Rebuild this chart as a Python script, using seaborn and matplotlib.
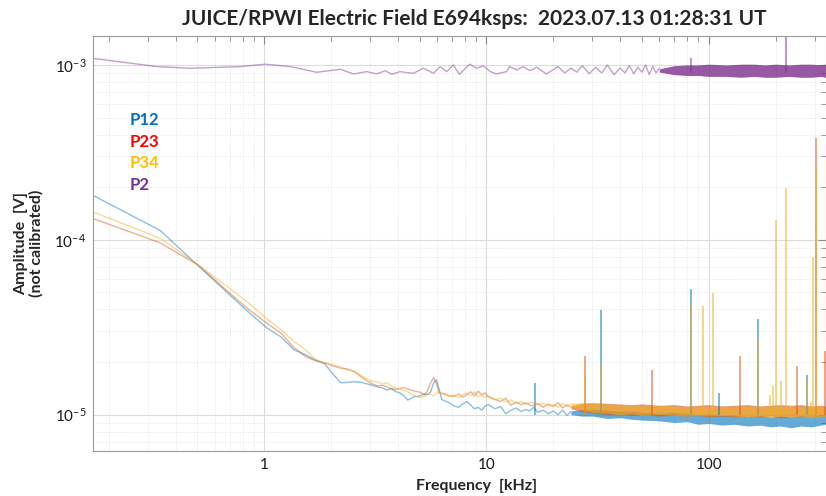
import numpy as np
import pandas as pd
import seaborn as sns
import matplotlib.pyplot as plt

# ---- spectra (freq in kHz, amplitude in V) ----
f_p12 = [0.17, 0.34, 0.51, 0.68, 0.85, 1.02, 1.19, 1.36, 1.53, 1.70, 1.87, 2.04, 2.21, 2.38,
         2.55, 2.72, 2.89, 3.06, 3.23, 3.40, 3.57, 3.74, 3.91, 4.08, 4.25, 4.42, 4.59, 4.76,
         4.93, 5.10, 5.27, 5.44, 5.61, 5.78, 5.95, 6.12, 6.29, 6.46, 6.80, 7.14, 7.48, 7.82,
         8.16, 8.50, 8.84, 9.18, 9.52, 9.86, 10.2, 10.9, 11.6, 12.2, 12.9, 13.6, 14.3, 15.0,
         15.6, 16.3, 17.0, 18.0, 19.0, 20.0, 21.0, 22.0, 23.0, 24.0]
a_p12 = [1.79e-4, 1.13e-4, 7.0e-5, 5.0e-5, 3.85e-5, 3.15e-5, 2.78e-5, 2.35e-5, 2.20e-5, 2.05e-5,
         1.95e-5, 1.70e-5, 1.52e-5, 1.53e-5, 1.54e-5, 1.53e-5, 1.50e-5, 1.47e-5, 1.44e-5, 1.42e-5,
         1.38e-5, 1.41e-5, 1.35e-5, 1.33e-5, 1.28e-5, 1.21e-5, 1.24e-5, 1.27e-5, 1.27e-5, 1.29e-5,
         1.31e-5, 1.30e-5, 1.35e-5, 1.52e-5, 1.58e-5, 1.40e-5, 1.22e-5, 1.20e-5, 1.17e-5, 1.12e-5,
         1.10e-5, 1.15e-5, 1.19e-5, 1.13e-5, 1.08e-5, 1.10e-5, 1.06e-5, 1.12e-5, 1.14e-5, 1.08e-5,
         1.11e-5, 1.01e-5, 1.06e-5, 1.09e-5, 1.04e-5, 1.07e-5, 1.05e-5, 1.10e-5, 1.03e-5, 1.06e-5,
         1.01e-5, 1.05e-5, 1.00e-5, 1.06e-5, 9.9e-6, 1.04e-5]

f_p23 = [0.17, 0.34, 0.51, 0.68, 0.85, 1.02, 1.19, 1.36, 1.53, 1.70, 1.87, 2.04, 2.21, 2.38,
         2.55, 2.72, 2.89, 3.06, 3.23, 3.40, 3.57, 3.74, 3.91, 4.08, 4.25, 4.42, 4.59, 4.76,
         4.93, 5.10, 5.27, 5.44, 5.61, 5.78, 5.95, 6.12, 6.46, 6.80, 7.14, 7.48, 7.82, 8.16,
         8.50, 8.84, 9.18, 9.52, 9.86, 10.2, 10.9, 11.6, 12.2, 12.9, 13.6, 14.3, 15.0, 16.0,
         17.0, 18.0, 19.0, 20.0, 21.0, 22.0, 23.0, 24.0]
a_p23 = [1.32e-4, 9.6e-5, 7.1e-5, 5.1e-5, 4.0e-5, 3.35e-5, 2.92e-5, 2.42e-5, 2.15e-5, 2.03e-5,
         1.98e-5, 1.90e-5, 1.84e-5, 1.82e-5, 1.75e-5, 1.65e-5, 1.56e-5, 1.50e-5, 1.46e-5, 1.47e-5,
         1.44e-5, 1.40e-5, 1.39e-5, 1.41e-5, 1.43e-5, 1.40e-5, 1.38e-5, 1.36e-5, 1.35e-5, 1.33e-5,
         1.30e-5, 1.38e-5, 1.52e-5, 1.63e-5, 1.50e-5, 1.33e-5, 1.32e-5, 1.28e-5, 1.27e-5, 1.31e-5,
         1.26e-5, 1.30e-5, 1.35e-5, 1.28e-5, 1.36e-5, 1.30e-5, 1.33e-5, 1.26e-5, 1.22e-5, 1.19e-5,
         1.24e-5, 1.13e-5, 1.18e-5, 1.14e-5, 1.17e-5, 1.12e-5, 1.16e-5, 1.10e-5, 1.15e-5, 1.11e-5,
         1.17e-5, 1.09e-5, 1.14e-5, 1.10e-5]

f_p34 = [0.17, 0.34, 0.51, 0.68, 0.85, 1.02, 1.19, 1.36, 1.53, 1.70, 1.87, 2.04, 2.21, 2.38,
         2.55, 2.72, 2.89, 3.06, 3.23, 3.40, 3.57, 3.74, 3.91, 4.08, 4.25, 4.42, 4.59, 4.76,
         4.93, 5.10, 5.27, 5.44, 5.61, 5.78, 5.95, 6.12, 6.46, 6.80, 7.14, 7.48, 7.82, 8.16,
         8.50, 8.84, 9.18, 9.52, 9.86, 10.2, 10.9, 11.6, 12.2, 12.9, 13.6, 14.3, 15.0, 16.0,
         17.0, 18.0, 19.0, 20.0, 21.0, 22.0, 23.0, 24.0]
a_p34 = [1.44e-4, 1.02e-4, 7.1e-5, 5.4e-5, 4.35e-5, 3.55e-5, 3.05e-5, 2.62e-5, 2.35e-5, 2.07e-5,
         1.97e-5, 1.92e-5, 1.87e-5, 1.80e-5, 1.78e-5, 1.68e-5, 1.60e-5, 1.55e-5, 1.54e-5, 1.50e-5,
         1.52e-5, 1.45e-5, 1.42e-5, 1.40e-5, 1.37e-5, 1.36e-5, 1.30e-5, 1.28e-5, 1.26e-5, 1.25e-5,
         1.27e-5, 1.32e-5, 1.30e-5, 1.28e-5, 1.33e-5, 1.34e-5, 1.30e-5, 1.27e-5, 1.29e-5, 1.25e-5,
         1.30e-5, 1.33e-5, 1.28e-5, 1.35e-5, 1.26e-5, 1.29e-5, 1.25e-5, 1.28e-5, 1.22e-5, 1.24e-5,
         1.18e-5, 1.21e-5, 1.16e-5, 1.19e-5, 1.14e-5, 1.18e-5, 1.13e-5, 1.16e-5, 1.12e-5, 1.14e-5,
         1.10e-5, 1.16e-5, 1.11e-5, 1.15e-5]

f_p2 = [0.17, 0.33, 0.465, 0.78, 1.01, 1.31, 1.72, 2.2, 2.52, 2.89, 3.21, 3.5, 3.75, 4.08,
        4.38, 4.69, 5.2, 5.78, 6.18, 6.62, 7.1, 7.55, 8.4, 9.03, 9.68, 10.4, 11.1, 12.3,
        12.7, 13.7, 14.6, 15.7, 16.8, 18.6, 19.9, 21.0, 22.5, 24.0, 25.5, 27.0, 29.0, 31.0,
        33.0, 35.0, 37.5, 40.0, 42.0, 44.0, 46.0, 48.0, 50.0, 52.0, 54.0, 56.0, 58.0, 60.0]
a_p2 = [1.09e-3, 9.78e-4, 9.57e-4, 9.78e-4, 1.01e-3, 9.78e-4, 9.08e-4, 9.44e-4, 8.88e-4, 9.16e-4,
        8.88e-4, 9.27e-4, 8.84e-4, 9.16e-4, 9.04e-4, 8.96e-4, 9.57e-4, 8.96e-4, 9.78e-4, 9.16e-4,
        1.0e-3, 8.84e-4, 1.01e-3, 9.57e-4, 9.87e-4, 9.16e-4, 8.88e-4, 9.16e-4, 9.78e-4, 9.36e-4,
        9.78e-4, 9.27e-4, 9.7e-4, 8.88e-4, 9.36e-4, 9.8e-4, 9.0e-4, 9.6e-4, 9.1e-4, 9.9e-4,
        8.9e-4, 9.7e-4, 9.0e-4, 1.0e-3, 8.8e-4, 9.6e-4, 9.0e-4, 9.9e-4, 8.9e-4, 9.7e-4,
        9.1e-4, 1.0e-3, 8.8e-4, 9.8e-4, 9.0e-4, 9.6e-4]

# dense high-frequency noise: envelope (low / high) of each channel
f_band = [24, 27, 30, 35, 40, 45, 50, 60, 70, 80, 90, 100, 115, 130, 150, 170, 190, 210,
          235, 260, 290, 320, 336]
lo_p12 = [1.0e-5, 9.8e-6, 9.8e-6, 9.5e-6, 9.6e-6, 9.4e-6, 9.3e-6, 9.2e-6, 9.0e-6, 9.1e-6, 8.8e-6,
          8.9e-6, 8.7e-6, 8.8e-6, 8.6e-6, 8.7e-6, 8.5e-6, 8.6e-6, 8.4e-6, 8.6e-6, 8.5e-6, 8.7e-6, 8.8e-6]
hi_p12 = [1.05e-5, 1.07e-5, 1.07e-5, 1.06e-5, 1.04e-5, 1.05e-5, 1.03e-5, 1.02e-5, 1.03e-5, 1.01e-5,
          1.00e-5, 1.01e-5, 9.9e-6, 1.00e-5, 9.8e-6, 9.9e-6, 9.7e-6, 9.8e-6, 9.7e-6, 9.9e-6, 9.8e-6,
          1.0e-5, 9.9e-6]
lo_p23 = [1.08e-5, 1.04e-5, 1.02e-5, 1.0e-5, 1.01e-5, 9.9e-6, 1.0e-5, 9.8e-6, 9.9e-6, 9.8e-6,
          9.9e-6, 9.7e-6, 9.8e-6, 9.7e-6, 9.8e-6, 9.7e-6, 9.8e-6, 9.6e-6, 9.7e-6, 9.8e-6, 9.7e-6,
          9.8e-6, 9.9e-6]
hi_p23 = [1.12e-5, 1.16e-5, 1.17e-5, 1.16e-5, 1.15e-5, 1.14e-5, 1.15e-5, 1.13e-5, 1.14e-5, 1.12e-5,
          1.13e-5, 1.14e-5, 1.12e-5, 1.13e-5, 1.14e-5, 1.12e-5, 1.13e-5, 1.14e-5, 1.13e-5, 1.14e-5,
          1.12e-5, 1.13e-5, 1.12e-5]
lo_p34 = [1.12e-5, 1.06e-5, 1.03e-5, 1.02e-5, 1.0e-5, 1.01e-5, 9.9e-6, 1.0e-5, 9.9e-6, 9.8e-6,
          9.9e-6, 9.8e-6, 9.9e-6, 9.8e-6, 9.7e-6, 9.8e-6, 9.7e-6, 9.8e-6, 9.7e-6, 9.8e-6, 9.6e-6,
          9.7e-6, 9.8e-6]
hi_p34 = [1.16e-5, 1.17e-5, 1.16e-5, 1.15e-5, 1.13e-5, 1.14e-5, 1.12e-5, 1.13e-5, 1.12e-5, 1.11e-5,
          1.12e-5, 1.11e-5, 1.12e-5, 1.10e-5, 1.12e-5, 1.11e-5, 1.12e-5, 1.11e-5, 1.12e-5, 1.10e-5,
          1.11e-5, 1.12e-5, 1.11e-5]
f_band_p2 = [60, 70, 80, 90, 100, 120, 140, 160, 180, 200, 230, 260, 290, 320, 336]
lo_p2 = [9.1e-4, 8.8e-4, 8.7e-4, 8.7e-4, 8.6e-4, 8.6e-4, 8.5e-4, 8.6e-4, 8.5e-4, 8.5e-4,
         8.6e-4, 8.5e-4, 8.5e-4, 8.6e-4, 8.5e-4]
hi_p2 = [9.5e-4, 9.9e-4, 1.0e-3, 1.0e-3, 1.01e-3, 1.0e-3, 1.01e-3, 1.01e-3, 1.0e-3, 1.01e-3,
         1.0e-3, 1.01e-3, 1.01e-3, 1.0e-3, 1.01e-3]

# narrow interference lines
spk_f_p12 = [16.5, 32.9, 83.6, 111, 167, 277]
spk_a_p12 = [1.52e-5, 3.99e-5, 5.2e-5, 1.32e-5, 3.5e-5, 1.69e-5]
spk_f_p23 = [27.9, 55.6, 139, 250, 303, 335]
spk_a_p23 = [2.15e-5, 1.8e-5, 2.17e-5, 1.9e-5, 3.81e-4, 2.3e-5]
spk_f_p34 = [27.9, 32.9, 83.6, 94.4, 105, 167, 189, 195, 201, 211, 223, 277, 289, 294, 303]
spk_a_p34 = [1.7e-5, 1.98e-5, 4.2e-5, 4.2e-5, 4.97e-5, 2.7e-5, 1.3e-5, 1.45e-5, 1.3e-4,
             1.55e-5, 1.97e-4, 1.6e-5, 1.18e-5, 8.0e-5, 2.58e-4]
spk_f_p2 = [83.6, 223]
spk_a_p2 = [1.09e-3, 1.6e-3]

channels = ['P12', 'P23', 'P34', 'P2']
colors = {'P12': '#0072BD', 'P23': '#D95319', 'P34': '#EDB120', 'P2': '#7E2F8E'}
text_colors = {'P12': '#0070C0', 'P23': '#FF0000', 'P34': '#FFC000', 'P2': '#7030A0'}
band_alpha = {'P12': 0.6, 'P23': 0.6, 'P34': 0.6, 'P2': 0.8}

sns.set_theme(style='white')
plt.rcParams['font.family'] = ['Lato', 'DejaVu Sans']
plt.rcParams['mathtext.default'] = 'regular'

lines = pd.concat([
    pd.DataFrame({'freq': f_p12, 'amp': a_p12, 'channel': 'P12'}),
    pd.DataFrame({'freq': f_p23, 'amp': a_p23, 'channel': 'P23'}),
    pd.DataFrame({'freq': f_p34, 'amp': a_p34, 'channel': 'P34'}),
    pd.DataFrame({'freq': f_p2, 'amp': a_p2, 'channel': 'P2'}),
])

fig, ax = plt.subplots(figsize=(8.26, 4.96), dpi=100)
fig.subplots_adjust(left=0.113, right=0.9995, bottom=0.091, top=0.927)

ax.set_xscale('log')
ax.set_yscale('log')

# grid
ax.grid(which='major', color='#dcdcdc', lw=0.8)
ax.grid(which='minor', color='#e4e4e4', ls=':', lw=0.7)
ax.set_axisbelow(True)

bands = {'P12': (f_band, lo_p12, hi_p12), 'P23': (f_band, lo_p23, hi_p23),
         'P34': (f_band, lo_p34, hi_p34), 'P2': (f_band_p2, lo_p2, hi_p2)}
spikes = {'P12': (spk_f_p12, spk_a_p12), 'P23': (spk_f_p23, spk_a_p23),
          'P34': (spk_f_p34, spk_a_p34), 'P2': (spk_f_p2, spk_a_p2)}

for ch in channels:
    sub = lines[lines['channel'] == ch]
    sns.lineplot(data=sub, x='freq', y='amp', color=colors[ch], lw=1.0, alpha=0.45,
                 estimator=None, legend=False, ax=ax)
    fb, lo, hi = bands[ch]
    ax.fill_between(fb, lo, hi, color=colors[ch], alpha=band_alpha[ch], lw=0)
    sf, sa = spikes[ch]
    base = [9.0e-4] * len(sf) if ch == 'P2' else [1.0e-5] * len(sf)
    ax.vlines(sf, base, sa, color=colors[ch], lw=1.2, alpha=0.6)

ax.set_xlim(0.17, 336)
ax.set_ylim(6.2e-6, 1.46e-3)

ax.set_xticks([1, 10, 100])
ax.set_xticklabels(['1', '10', '100'])

for sp in ax.spines.values():
    sp.set_color('#9a9a9a')
    sp.set_linewidth(0.8)
ax.tick_params(which='both', direction='in', top=True, right=True, color='#8a8a8a',
               labelsize=11, labelcolor='#1a1a1a')
ax.tick_params(which='major', length=6, width=0.8, pad=5)
ax.tick_params(which='minor', length=3.5, width=0.6)

ax.set_xlabel('Frequency  [kHz]', fontsize=11.5, fontweight='bold')
ax.set_ylabel('Amplitude  [V]\n(not calibrated)', fontsize=11.5, fontweight='bold',
              linespacing=1.1)
ax.xaxis.set_label_coords(0.524, -0.068)
ax.yaxis.set_label_coords(-0.068, 0.50)

fig.text(474 / 826, 1 - 19 / 496,
         'JUICE/RPWI Electric Field E694ksps:  2023.07.13 01:28:31 UT',
         ha='center', va='center', fontsize=15, fontweight='bold')

for i, ch in enumerate(channels):
    ax.text(0.05, 0.798 - i * 0.052, ch, transform=ax.transAxes, color=text_colors[ch],
            fontsize=12, fontweight='bold', va='center', ha='left')

fig.savefig('out.png', dpi=100)
